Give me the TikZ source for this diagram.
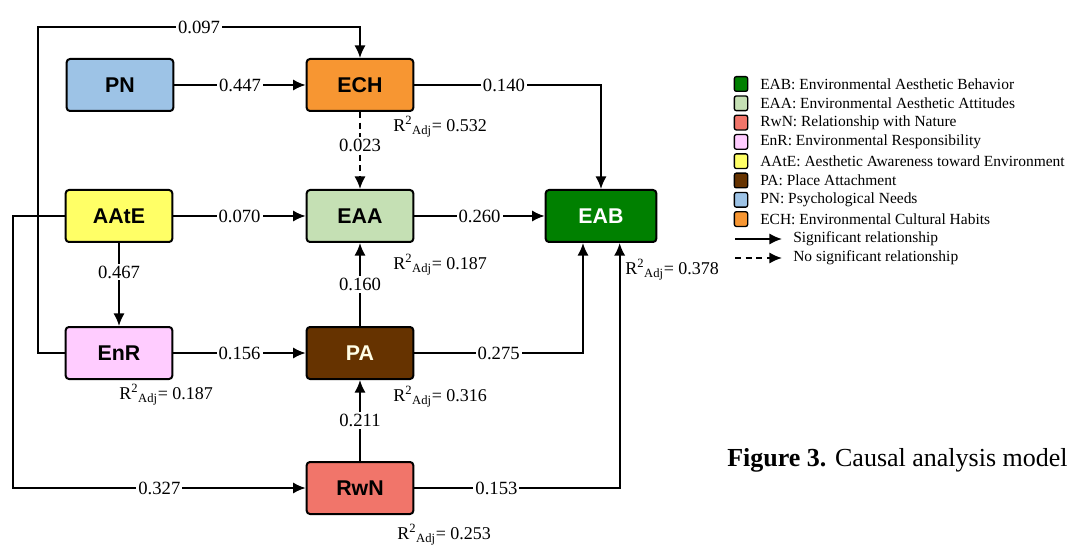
\documentclass[tikz,border=0pt]{standalone}
\usepackage{fontspec}
\setmainfont{Liberation Serif}
\newfontfamily\boxfont{Liberation Sans}
\usetikzlibrary{arrows.meta}

\definecolor{pncolor}{RGB}{157,195,230}
\definecolor{echcolor}{RGB}{247,150,50}
\definecolor{aatecolor}{RGB}{255,255,102}
\definecolor{eaacolor}{RGB}{197,224,180}
\definecolor{eabcolor}{RGB}{0,128,0}
\definecolor{enrcolor}{RGB}{255,204,255}
\definecolor{pacolor}{RGB}{102,51,0}
\definecolor{rwncolor}{RGB}{241,117,106}

\tikzset{
  var/.style={draw,line width=1.5pt,rounded corners=2.5pt,minimum width=80pt,minimum height=39pt,
    font=\boxfont\fontsize{16}{16}\selectfont\bfseries},
  link/.style={line width=1.5pt,-{Latex[length=9.5pt,width=8.5pt]}},
  coef/.style={fill=white,inner sep=1.5pt,font=\fontsize{14}{14}\selectfont},
  rsq/.style={anchor=west,inner sep=0pt,font=\fontsize{13.5}{13.5}\selectfont},
  key/.style={draw,line width=1pt,rounded corners=1.5pt,minimum width=10pt,minimum height=11pt,inner sep=0pt},
  keytext/.style={anchor=west,inner sep=0pt,font=\fontsize{11.6}{11.6}\selectfont}
}

\newcommand{\radj}[1]{R\textsuperscript{2}\textsubscript{Adj}= #1}

\begin{document}
\begin{tikzpicture}[x=0.75pt,y=-0.75pt]
\useasboundingbox (0,0) rectangle (1070,545);

% variables
\node[var,fill=pncolor] (PN) at (120,85) {PN};
\node[var,fill=echcolor] (ECH) at (360,85) {ECH};
\node[var,fill=aatecolor] (AAtE) at (119,216) {AAtE};
\node[var,fill=eaacolor] (EAA) at (360,216) {EAA};
\node[var,fill=eabcolor,text=white,minimum width=83pt] (EAB) at (601,216) {EAB};
\node[var,fill=enrcolor] (EnR) at (119,353) {EnR};
\node[var,fill=pacolor,text=white!90!yellow] (PA) at (360,353) {PA};
\node[var,fill=rwncolor] (RwN) at (360,488) {RwN};

% corners
\coordinate (topleft) at (38,27);
\coordinate (farleft) at (13,488);
\coordinate (eableft) at ([xshift=-13.5pt]EAB.south);
\coordinate (eabright) at ([xshift=14pt]EAB.south);

% paths
\draw[link] (PN) -- node[coef]{0.447} (ECH);
\draw[link] (AAtE) -- node[coef]{0.070} (EAA);
\draw[link] (EAA) -- node[coef]{0.260} (EAB);
\draw[link] (EnR) -- node[coef]{0.156} (PA);
\draw[link] (AAtE) -- node[coef,pos=0.35]{0.467} (EnR);
\draw[link,dash pattern=on 4.5pt off 3.5pt] (ECH) -- node[coef,pos=0.43]{0.023} (EAA);
\draw[link] (PA) -- node[coef]{0.160} (EAA);
\draw[link] (RwN) -- node[coef]{0.211} (PA);
\draw[link] (ECH) -| node[coef,pos=0.24]{0.140} (EAB);
\draw[link] (PA) -| node[coef,pos=0.25]{0.275} (eableft);
\draw[link] (RwN) -| node[coef,pos=0.2]{0.153} (eabright);
\draw[link] (EnR.west) -| (topleft) -| node[coef,pos=0.25]{0.097} (ECH);
\draw[link] (AAtE.west) -| (farleft) -- node[coef]{0.327} (RwN);

% explained variance
\node[rsq] (rECH) at (393,127) {\radj{0.532}};
\node[rsq] (rEAA) at (393,265) {\radj{0.187}};
\node[rsq] (rEAB) at (625,270) {\radj{0.378}};
\node[rsq] (rEnR) at (119,395) {\radj{0.187}};
\node[rsq] (rPA) at (393,397) {\radj{0.316}};
\node[rsq] (rRwN) at (397,535) {\radj{0.253}};

% legend
\foreach \c/\t [count=\i] in {eabcolor/{EAB: Environmental Aesthetic Behavior},
  eaacolor/{EAA: Environmental Aesthetic Attitudes},
  rwncolor/{RwN: Relationship with Nature},
  enrcolor/{EnR: Environmental Responsibility},
  aatecolor/{AAtE: Aesthetic Awareness toward Environment},
  pacolor/{PA: Place Attachment},
  pncolor/{PN: Psychological Needs},
  echcolor/{ECH: Environmental Cultural Habits}}
{
\node[key,fill=\c] (key\i) at (741,{84+19.3*(\i-1)}) {};
\node[keytext] (keytext\i) at (760,{84+19.3*(\i-1)}) {\t};
}

\coordinate (sigA) at (735,239);
\coordinate (sigB) at (782,239);
\coordinate (nsA) at (735,258);
\coordinate (nsB) at (782,258);
\draw[link] (sigA) -- (sigB);
\draw[link,dash pattern=on 4.5pt off 3.5pt] (nsA) -- (nsB);
\node[keytext] (sigtext) at (793,239) {Significant relationship};
\node[keytext] (nstext) at (793,258) {No significant relationship};

% caption
\node[anchor=west,inner sep=0pt,font=\fontsize{19.5}{19.5}\selectfont] (caption) at (727,460) {\textbf{Figure 3.} Causal analysis model};
\end{tikzpicture}
\end{document}
